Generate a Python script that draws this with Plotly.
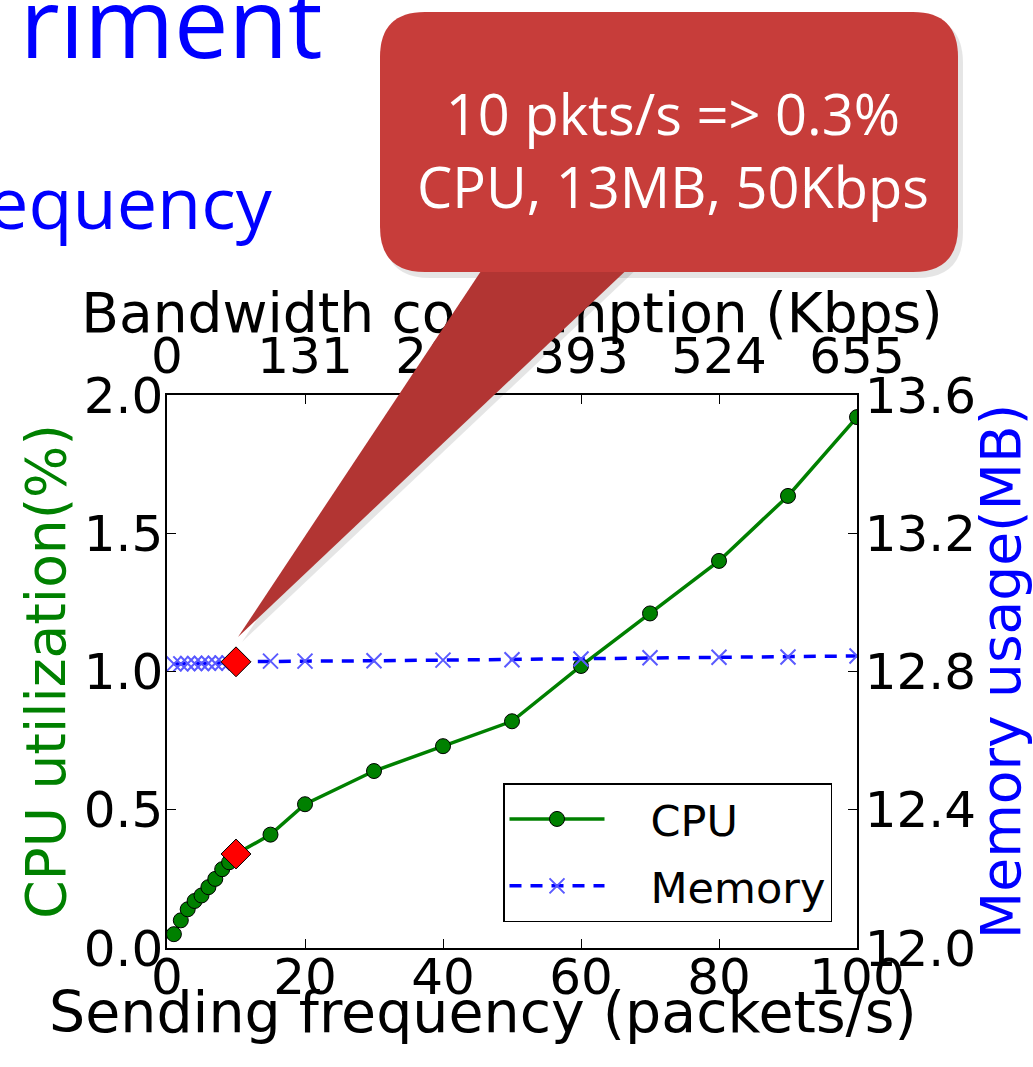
import plotly.graph_objects as go

# ---------------- data ----------------
freq = [1, 2, 3, 4, 5, 6, 7, 8, 9, 10, 15, 20, 30, 40, 50, 60, 70, 80, 90, 100]
cpu = [0.05, 0.10, 0.14, 0.17, 0.19, 0.22, 0.25, 0.285, 0.31, 0.34,
       0.41, 0.52, 0.64, 0.73, 0.82, 1.02, 1.21, 1.40, 1.635, 1.92]
mem = [12.822, 12.822, 12.823, 12.823, 12.823, 12.824, 12.824, 12.825, 12.825, 12.828,
       12.830, 12.830, 12.831, 12.833, 12.834, 12.836, 12.840, 12.841, 12.842, 12.845]

hl_freq = [10]
hl_cpu = [0.34]
hl_mem = [12.828]

freq_ticks = [0, 20, 40, 60, 80, 100]
cpu_ticks = [0.0, 0.5, 1.0, 1.5, 2.0]
mem_ticks = [12.0, 12.4, 12.8, 13.2, 13.6]
bw_ticks = [0, 131, 262, 393, 524, 655]
bw_max = 655

callout_text = "10 pkts/s => 0.3%<br>CPU, 13MB, 50Kbps"
NB = "\u00a0"

# ---------------- geometry helpers (layout only) ----------------
W, H = 1033, 1067
L, R, T, B = 167, 857, 395, 948


def px(x):
    return (x - L) / (R - L)


def py(y):
    return (B - y) / (B - T)


def P(x, y):
    return f"{px(x):.5f},{py(y):.5f}"


def rounded_rect(x0, y0, x1, y1, r):
    return (f"M {P(x0 + r, y0)} L {P(x1 - r, y0)} Q {P(x1, y0)} {P(x1, y0 + r)} "
            f"L {P(x1, y1 - r)} Q {P(x1, y1)} {P(x1 - r, y1)} "
            f"L {P(x0 + r, y1)} Q {P(x0, y1)} {P(x0, y1 - r)} "
            f"L {P(x0, y0 + r)} Q {P(x0, y0)} {P(x0 + r, y0)} Z")


def wedge(dx=0, dy=0):
    return (f"M {P(487 + dx, 262 + dy)} L {P(238 + dx, 637 + dy)} "
            f"L {P(635 + dx, 262 + dy)} Z")


FONT = "DejaVu Sans"
TICK = 50

fig = go.Figure()

fig.add_trace(go.Scatter(
    x=freq, y=cpu, name=NB * 3 + "CPU", mode="lines+markers",
    line=dict(color="#008000", width=3.5),
    marker=dict(symbol="circle", size=15, color="#008000",
                line=dict(color="black", width=1)),
    legendgroup="a", xaxis="x", yaxis="y"))

fig.add_trace(go.Scatter(
    x=freq, y=mem, name=NB * 3 + "Memory", mode="lines+markers",
    line=dict(color="#0000ff", width=3.5, dash="12px,9px"),
    marker=dict(symbol="x-thin", size=15, color="#5a5aff",
                line=dict(color="#5a5aff", width=2)),
    legendgroup="b", xaxis="x", yaxis="y2"))

fig.add_trace(go.Scatter(
    x=hl_freq, y=hl_cpu, mode="markers", showlegend=False,
    marker=dict(symbol="diamond", size=23, color="#ff0000",
                line=dict(color="black", width=1)),
    xaxis="x", yaxis="y"))

fig.add_trace(go.Scatter(
    x=hl_freq, y=hl_mem, mode="markers", showlegend=False,
    marker=dict(symbol="diamond", size=23, color="#ff0000",
                line=dict(color="black", width=1)),
    xaxis="x", yaxis="y2"))

# helper traces so that the top (bandwidth) axes are drawn
fig.add_trace(go.Scatter(x=[bw_ticks[0]], y=[None], mode="markers",
                         showlegend=False, hoverinfo="skip",
                         xaxis="x2", yaxis="y"))
fig.add_trace(go.Scatter(x=[bw_ticks[0]], y=[None], mode="markers",
                         showlegend=False, hoverinfo="skip",
                         xaxis="x3", yaxis="y"))

axis_common = dict(showgrid=False, zeroline=False, ticks="inside", ticklen=9,
                   tickwidth=1.2, tickcolor="black", showline=True,
                   linecolor="black", linewidth=1.5,
                   tickfont=dict(family=FONT, size=TICK, color="black"))

shapes = [
    # soft shadow
    dict(type="path", xref="paper", yref="paper", layer="above",
         path=rounded_rect(384, 17, 963, 278, 46), fillcolor="rgba(0,0,0,0.10)",
         line=dict(width=0)),
    dict(type="path", xref="paper", yref="paper", layer="above",
         path=wedge(4, 5), fillcolor="rgba(0,0,0,0.10)", line=dict(width=0)),
    # wedge + box
    dict(type="path", xref="paper", yref="paper", layer="above",
         path=wedge(), fillcolor="#b23533", line=dict(width=0)),
    dict(type="path", xref="paper", yref="paper", layer="above",
         path=rounded_rect(380, 12, 958, 272, 45), fillcolor="#c73d3a",
         line=dict(width=0)),
]

annotations = [
    dict(text=callout_text, xref="paper", yref="paper", x=px(673), y=py(149),
         xanchor="center", yanchor="middle", showarrow=False, align="center",
         font=dict(family="Open Sans", size=56, color="white")),
    dict(text="riment", xref="paper", yref="paper", x=px(324), y=py(20),
         xanchor="right", yanchor="middle", showarrow=False,
         font=dict(family="Open Sans", size=97, color="#0000ff")),
    dict(text="equency", xref="paper", yref="paper", x=px(275), y=py(201),
         xanchor="right", yanchor="middle", showarrow=False,
         font=dict(family="Open Sans", size=72, color="#0000ff")),
    dict(text="Sending frequency (packets/s)", xref="paper", yref="paper",
         x=px(483), y=py(1012), xanchor="center", yanchor="middle",
         showarrow=False, font=dict(family=FONT, size=57, color="black")),
]

fig.update_layout(
    width=W, height=H,
    margin=dict(l=L, r=W - R, t=T, b=H - B, autoexpand=False),
    paper_bgcolor="white", plot_bgcolor="white",
    font=dict(family=FONT, color="black"),
    showlegend=True,
    xaxis=dict(range=[0, 100], tickvals=freq_ticks, mirror=True,
               ticklabelstandoff=-16, **axis_common),
    xaxis2=dict(range=[0, bw_max], tickvals=bw_ticks, overlaying="x",
                side="top", anchor="y", **axis_common),
    xaxis3=dict(range=[0, bw_max], tickvals=[bw_max / 2],
                ticktext=["Bandwidth consumption (Kbps)"], overlaying="x",
                side="top", anchor="free", position=1, showgrid=False,
                zeroline=False, showline=False, ticks="",
                ticklabelstandoff=52,
                tickfont=dict(family=FONT, size=55, color="black")),
    yaxis=dict(range=[0, 2], tickvals=cpu_ticks, tickformat=".1f", mirror=True,
               ticklabelstandoff=-8,
               title=dict(text="CPU utilization(%)", standoff=0,
                          font=dict(family=FONT, size=55, color="#008000")),
               **axis_common),
    yaxis2=dict(range=[12.0, 13.6], tickvals=mem_ticks, tickformat=".1f",
                overlaying="y", side="right", anchor="x",
                ticklabelstandoff=-4,
                title=dict(text="Memory usage(MB)", standoff=6,
                           font=dict(family=FONT, size=55, color="#0000ff")),
                **axis_common),
    legend=dict(x=px(503), y=py(783), xanchor="left", yanchor="top",
                bgcolor="white", bordercolor="black", borderwidth=1.5,
                font=dict(family=FONT, size=43, color="black"),
                itemwidth=95, tracegroupgap=8),
    shapes=shapes,
    annotations=annotations,
)

fig.write_html("out.html")
